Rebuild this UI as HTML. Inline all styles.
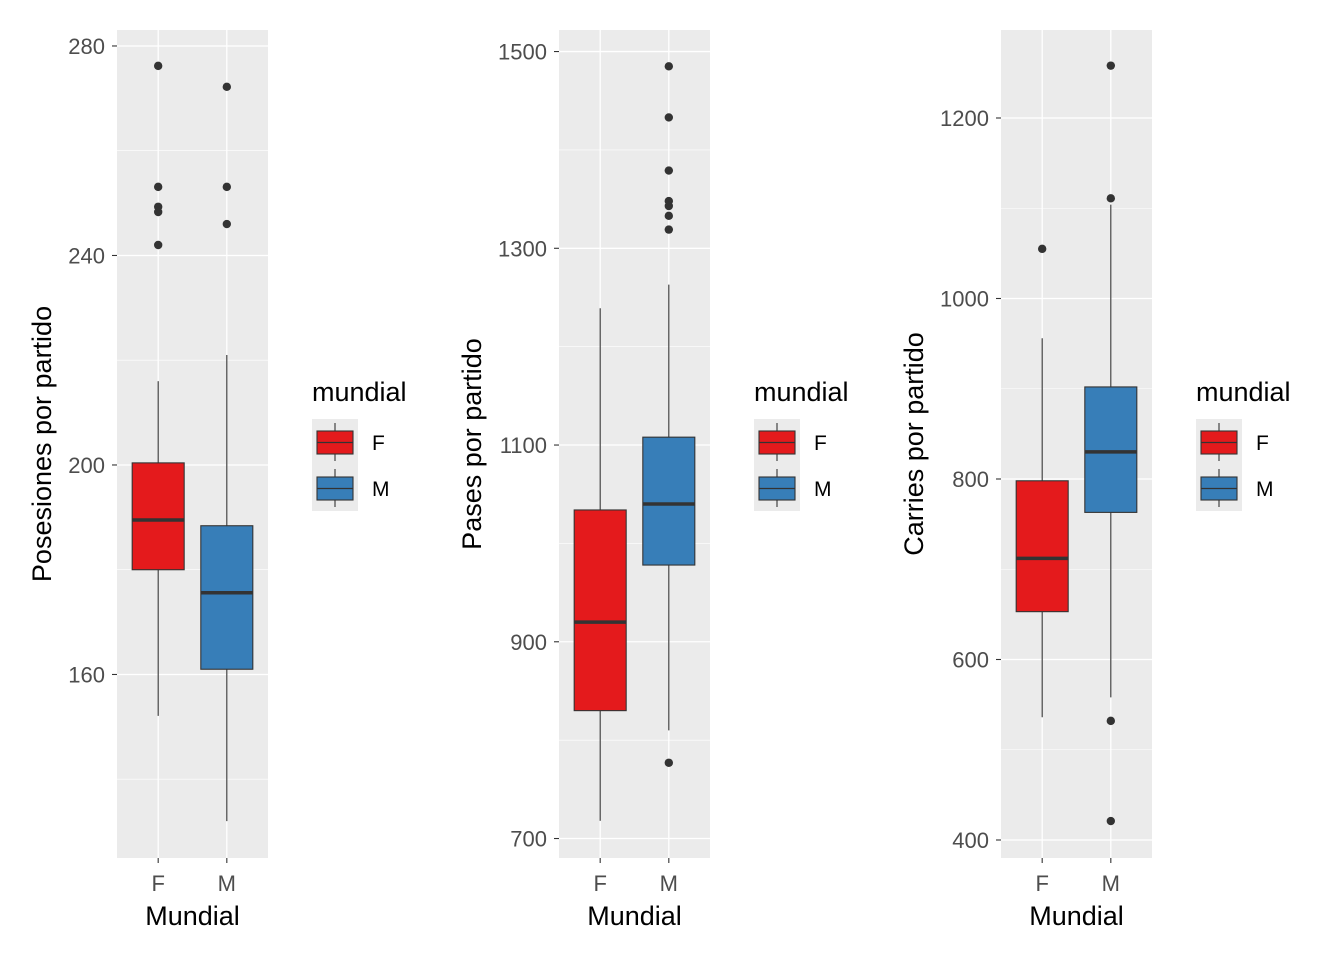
<!DOCTYPE html>
<html><head><meta charset="utf-8"><style>
body{margin:0;background:#fff;}
svg text{font-family:"Liberation Sans",Arial,sans-serif;}
</style></head><body>
<svg id="chart" width="1344" height="960" xmlns="http://www.w3.org/2000/svg"></svg>
<script>
const groups = ["F","M"];
const p1Stats = [[152.1,180,189.5,200.4,216],[132,161,175.6,188.4,221]];
const p1Outliers = [[276.2,253.1,249.3,248.3,242.0],[272.2,253.1,246.0]];
const p1Ticks = [160,200,240,280];
const p1Minor = [140,180,220,260];
const p2Stats = [[718,830,920,1034,1239],[810,978,1040,1108,1263]];
const p2Outliers = [[],[777,1485,1433,1379,1348,1343,1333,1319]];
const p2Ticks = [700,900,1100,1300,1500];
const p2Minor = [800,1000,1200,1400];
const p3Stats = [[536,653,712,798,956],[558,763,830,902,1104]];
const p3Outliers = [[1055],[1258,1111,532,421]];
const p3Ticks = [400,600,800,1000,1200];
const p3Minor = [500,700,900,1100];
const yTitles = ["Posesiones por partido","Pases por partido","Carries por partido"];
const fills = ["#E41A1C","#377EB8"];

const svg = document.getElementById('chart');
const NS = "http://www.w3.org/2000/svg";
function mk(tag, attrs, parent){
  const e = document.createElementNS(NS, tag);
  for (const k in attrs) e.setAttribute(k, attrs[k]);
  (parent||svg).appendChild(e);
  return e;
}
const panels = [
  {x0:117, stats:p1Stats, out:p1Outliers, ticks:p1Ticks, minor:p1Minor, ymin:124.96, ymax:283.05},
  {x0:559, stats:p2Stats, out:p2Outliers, ticks:p2Ticks, minor:p2Minor, ymin:680.2, ymax:1521.9},
  {x0:1001, stats:p3Stats, out:p3Outliers, ticks:p3Ticks, minor:p3Minor, ymin:380.05, ymax:1297.5}
];
const plotTop=30, plotBot=858, pw=151;
panels.forEach((p,pi)=>{
  const g = mk('g',{});
  
  
  const y = v => plotBot - (v - p.ymin)/(p.ymax - p.ymin)*(plotBot-plotTop);
  const xc = i => p.x0 + pw*(0.5 + (i-0.5)*0.4545);
  const bg = mk('rect',{x:p.x0,y:plotTop,width:pw,height:plotBot-plotTop,fill:'#EBEBEB'},g);
  
  
  p.minor.forEach(v=>mk('line',{x1:p.x0,x2:p.x0+pw,y1:y(v),y2:y(v),stroke:'#fff','stroke-width':0.6},g));
  p.ticks.forEach(v=>{
    mk('line',{x1:p.x0,x2:p.x0+pw,y1:y(v),y2:y(v),stroke:'#fff','stroke-width':1.3},g);
    mk('line',{x1:p.x0-5,x2:p.x0,y1:y(v),y2:y(v),stroke:'#333','stroke-width':1.1},g);
    const t = mk('text',{x:p.x0-12,y:y(v)+8,'text-anchor':'end','font-size':22,fill:'#4D4D4D'},g);
    t.textContent=v;
    
    
  });
  groups.forEach((gr,i)=>{
    const cx = xc(i);
    mk('line',{x1:cx,x2:cx,y1:plotTop,y2:plotBot,stroke:'#fff','stroke-width':1.3},g);
    mk('line',{x1:cx,x2:cx,y1:plotBot,y2:plotBot+5,stroke:'#333','stroke-width':1.1},g);
    const xl = mk('text',{x:cx,y:891,'text-anchor':'middle','font-size':22,fill:'#4D4D4D'},g);
    xl.textContent=gr;
    
    
  });
  groups.forEach((gr,i)=>{
    const cx = xc(i), s=p.stats[i], hw=26;
    const bx = mk('g',{},g);
    
    
    mk('line',{x1:cx,x2:cx,y1:y(s[0]),y2:y(s[1]),stroke:'#333','stroke-width':1.1},bx);
    mk('line',{x1:cx,x2:cx,y1:y(s[3]),y2:y(s[4]),stroke:'#333','stroke-width':1.1},bx);
    mk('rect',{x:cx-hw,y:y(s[3]),width:2*hw,height:y(s[1])-y(s[3]),fill:fills[i],stroke:'#333','stroke-width':1.1},bx);
    mk('line',{x1:cx-hw,x2:cx+hw,y1:y(s[2]),y2:y(s[2]),stroke:'#333','stroke-width':3.5},bx);
    p.out[i].forEach(v=>{
      const c = mk('circle',{cx:cx,cy:y(v),r:4.2,fill:'#333'},bx);
      
      
    });
  });
  const xt = mk('text',{x:p.x0+pw/2,y:925,'text-anchor':'middle','font-size':27,fill:'#000'},g);
  xt.textContent='Mundial';
  
  
  const yx = pi==0?51:(pi==1?481:923);
  const yt = mk('text',{x:0,y:0,'text-anchor':'middle','font-size':27,fill:'#000',transform:'translate('+yx+',444) rotate(-90)'},g);
  yt.textContent=yTitles[pi];
  
  
  const lx = p.x0+195;
  const lg = mk('g',{},g);
  
  
  const lt = mk('text',{x:lx,y:401,'font-size':27,fill:'#000'},lg);
  lt.textContent='mundial';
  groups.forEach((gr,i)=>{
    const ky = 419+i*46;
    const e = mk('g',{},lg);
    
    
    mk('rect',{x:lx,y:ky,width:46,height:46,fill:'#EBEBEB'},e);
    mk('line',{x1:lx+23,x2:lx+23,y1:ky+4,y2:ky+42,stroke:'#333','stroke-width':1.1},e);
    mk('rect',{x:lx+5,y:ky+12,width:36,height:23,fill:fills[i],stroke:'#333','stroke-width':1.1},e);
    mk('line',{x1:lx+5,x2:lx+41,y1:ky+23.5,y2:ky+23.5,stroke:'#333','stroke-width':1.3},e);
    const t = mk('text',{x:lx+60,y:ky+31,'font-size':21,fill:'#000'},e);
    t.textContent=gr;
  });
});
</script>
</body></html>
